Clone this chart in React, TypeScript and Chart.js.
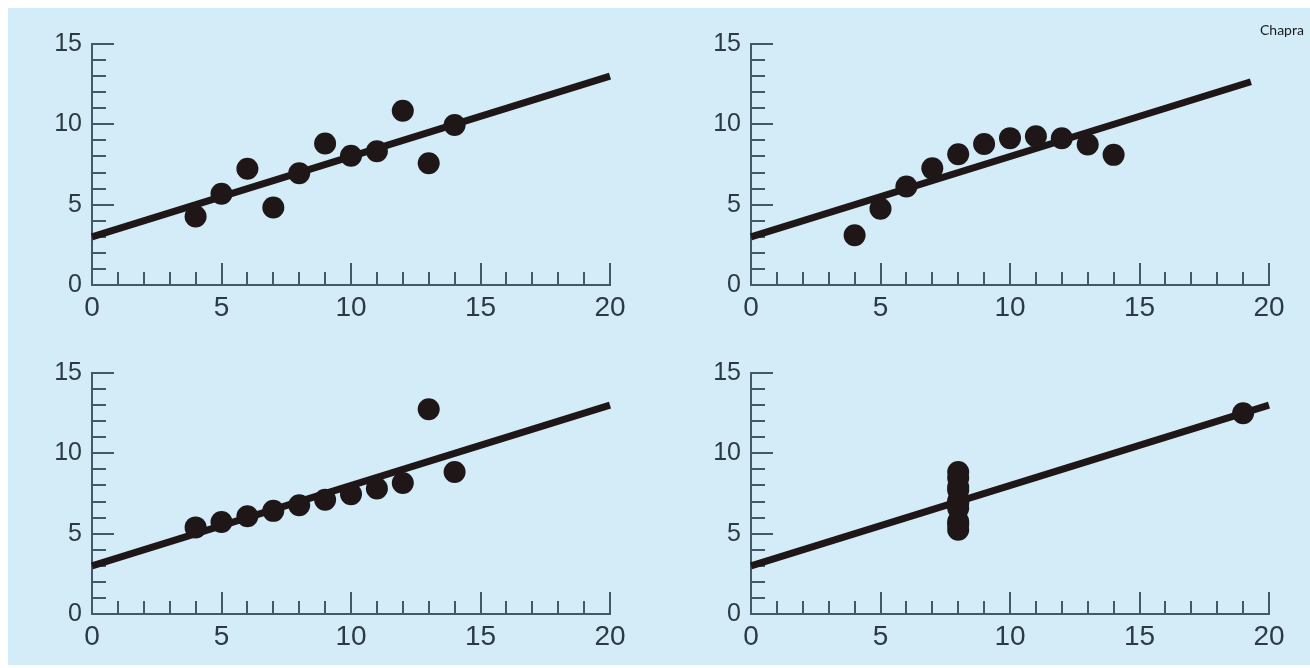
import React, { useEffect, useRef } from "react";
import { Chart, registerables } from "chart.js";

Chart.register(...registerables);

// Anscombe's quartet
const xShared = [10, 8, 13, 9, 11, 14, 6, 4, 12, 7, 5];
const yOne = [8.04, 6.95, 7.58, 8.81, 8.33, 9.96, 7.24, 4.26, 10.84, 4.82, 5.68];
const yTwo = [9.14, 8.14, 8.74, 8.77, 9.26, 8.1, 6.13, 3.1, 9.13, 7.26, 4.74];
const yThree = [7.46, 6.77, 12.74, 7.11, 7.81, 8.84, 6.08, 5.39, 8.15, 6.42, 5.73];
const xFour = [8, 8, 8, 8, 8, 8, 8, 19, 8, 8, 8];
const yFour = [6.58, 5.76, 7.71, 8.84, 8.47, 7.04, 5.25, 12.5, 5.56, 7.91, 6.89];

// least-squares line endpoints (y = 3 + 0.5x) for each panel
const fitXOne = [0, 20];
const fitYOne = [3, 13];
const fitXTwo = [0, 19.3];
const fitYTwo = [3, 12.65];
const fitXThree = [0, 20];
const fitYThree = [3, 13];
const fitXFour = [0, 20];
const fitYFour = [3, 13];

// labelled tick values
const xTickLabels = [0, 5, 10, 15, 20];
const yTickLabels = [0, 5, 10, 15];

const BG = "#d3ecf8";
const INK = "#1f1717";
const AXIS = "#435868";
const LABEL = "#2c3a44";

const PLOT_W = 518;
const PLOT_H = 241;
const Y_AXIS_W = 70;
const X_AXIS_H = 50;
const PAD_TOP = 30;
const PAD_RIGHT = 40;

const pairs = (xs: number[], ys: number[]) => xs.map((x, i) => ({ x, y: ys[i] }));

// short ticks drawn inward from both axes: one per unit, longer every 5
const innerTicks = {
  id: "innerTicks",
  beforeDatasetsDraw(chart: any) {
    const { ctx, chartArea } = chart;
    const xs = chart.scales.x;
    const ys = chart.scales.y;
    ctx.save();
    ctx.strokeStyle = AXIS;
    ctx.lineWidth = 2;
    ctx.lineCap = "butt";
    for (let v = xs.min + 1; v <= xs.max; v++) {
      const px = Math.round(xs.getPixelForValue(v));
      const len = v % 5 === 0 ? 22 : 13;
      ctx.beginPath();
      ctx.moveTo(px, chartArea.bottom);
      ctx.lineTo(px, chartArea.bottom - len);
      ctx.stroke();
    }
    for (let v = ys.min + 1; v <= ys.max; v++) {
      const py = Math.round(ys.getPixelForValue(v));
      const len = v % 5 === 0 ? 22 : 14;
      ctx.beginPath();
      ctx.moveTo(chartArea.left, py);
      ctx.lineTo(chartArea.left + len, py);
      ctx.stroke();
    }
    ctx.restore();
  },
};

type PanelProps = {
  xs: number[];
  ys: number[];
  fitX: number[];
  fitY: number[];
  left: number;
  top: number;
};

function Panel({ xs, ys, fitX, fitY, left, top }: PanelProps) {
  const ref = useRef<HTMLCanvasElement | null>(null);

  useEffect(() => {
    if (!ref.current) return;
    const family = "'Liberation Sans', Arial, sans-serif";
    const chart = new Chart(ref.current, {
      type: "scatter",
      data: {
        datasets: [
          {
            data: pairs(xs, ys),
            pointRadius: 11,
            pointHoverRadius: 11,
            backgroundColor: INK,
            borderWidth: 0,
            showLine: false,
            clip: false,
          } as any,
          {
            data: pairs(fitX, fitY),
            showLine: true,
            pointRadius: 0,
            borderColor: INK,
            borderWidth: 7,
            borderCapStyle: "butt",
            clip: false,
          } as any,
        ],
      },
      options: {
        responsive: false,
        animation: false,
        events: [],
        layout: { padding: { top: PAD_TOP, right: PAD_RIGHT, left: 0, bottom: 0 } },
        plugins: { legend: { display: false }, tooltip: { enabled: false } },
        scales: {
          x: {
            type: "linear",
            min: 0,
            max: 20,
            grid: { display: false, drawTicks: false },
            border: { display: true, color: AXIS, width: 2 },
            afterBuildTicks: (s: any) => {
              s.ticks = xTickLabels.map((v) => ({ value: v }));
            },
            afterFit: (s: any) => {
              s.height = X_AXIS_H;
            },
            ticks: {
              color: LABEL,
              font: { family, size: 28 },
              padding: 6,
              maxRotation: 0,
            },
          },
          y: {
            type: "linear",
            min: 0,
            max: 15,
            grid: { display: false, drawTicks: false },
            border: { display: true, color: AXIS, width: 2 },
            afterBuildTicks: (s: any) => {
              s.ticks = yTickLabels.map((v) => ({ value: v }));
            },
            afterFit: (s: any) => {
              s.width = Y_AXIS_W;
            },
            ticks: { color: LABEL, font: { family, size: 25 }, padding: 10 },
          },
        },
      },
      plugins: [innerTicks],
    } as any);
    return () => chart.destroy();
  }, [xs, ys, fitX, fitY]);

  const w = Y_AXIS_W + PLOT_W + PAD_RIGHT;
  const h = PAD_TOP + PLOT_H + X_AXIS_H;
  return (
    <canvas
      ref={ref}
      width={w}
      height={h}
      style={{ position: "absolute", left, top, width: w, height: h }}
    />
  );
}

export default function App() {
  return (
    <div
      style={{
        position: "absolute",
        left: 8,
        top: 8,
        width: 1302,
        height: 657,
        background: BG,
        overflow: "hidden",
      }}
    >
      <Panel xs={xShared} ys={yOne} fitX={fitXOne} fitY={fitYOne} left={14} top={6} />
      <Panel xs={xShared} ys={yTwo} fitX={fitXTwo} fitY={fitYTwo} left={673} top={6} />
      <Panel xs={xShared} ys={yThree} fitX={fitXThree} fitY={fitYThree} left={14} top={335} />
      <Panel xs={xFour} ys={yFour} fitX={fitXFour} fitY={fitYFour} left={673} top={335} />
      <span
        style={{
          position: "absolute",
          left: 1252,
          top: 13,
          fontFamily: "Lato, sans-serif",
          fontSize: 14,
          color: "#1a1a1a",
          lineHeight: "17px",
          whiteSpace: "nowrap",
        }}
      >
        Chapra
      </span>
    </div>
  );
}
